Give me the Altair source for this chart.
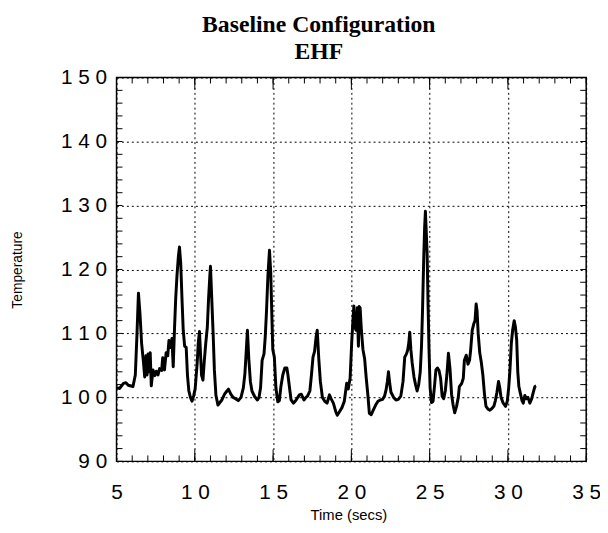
import altair as alt
import pandas as pd

# ---- data ----
time_s = [5.0, 5.2, 5.44, 5.6, 5.75, 6.05, 6.2, 6.3, 6.4, 6.5, 6.6, 6.72, 6.8, 6.88, 6.95,
          7.02, 7.1, 7.15, 7.22, 7.33, 7.45, 7.54, 7.65, 7.75, 7.88, 7.95, 8.06, 8.17, 8.27,
          8.35, 8.45, 8.54, 8.62, 8.7, 8.78, 8.86, 8.95, 9.02, 9.1, 9.18, 9.26, 9.35, 9.45,
          9.53, 9.62, 9.72, 9.82, 9.92, 10.02, 10.15, 10.22, 10.3, 10.38, 10.43, 10.52, 10.6,
          10.7, 10.8, 10.88, 10.96, 11.0, 11.08, 11.17, 11.25, 11.35, 11.48, 11.6, 11.73, 11.9,
          12.05, 12.15, 12.3, 12.45, 12.6, 12.78, 12.95, 13.1, 13.2, 13.28, 13.36, 13.45, 13.55,
          13.65, 13.83, 14.0, 14.1, 14.2, 14.3, 14.42, 14.5, 14.58, 14.67, 14.77, 14.85, 14.92,
          14.98, 15.08, 15.18, 15.3, 15.4, 15.5, 15.62, 15.75, 15.88, 15.95, 16.05, 16.15, 16.3,
          16.45, 16.55, 16.68, 16.8, 16.97, 17.1, 17.2, 17.35, 17.45, 17.55, 17.65, 17.75, 17.82,
          17.92, 18.02, 18.15, 18.3, 18.45, 18.6, 18.7, 18.85, 19.0, 19.1, 19.25, 19.4, 19.55,
          19.7, 19.8, 19.92, 20.02, 20.1, 20.16, 20.22, 20.3, 20.38, 20.45, 20.5, 20.56, 20.64,
          20.74, 20.85, 20.95, 21.05, 21.15, 21.27, 21.4, 21.55, 21.7, 21.85, 22.0, 22.12, 22.22,
          22.3, 22.37, 22.45, 22.53, 22.7, 22.85, 23.0, 23.16, 23.3, 23.41, 23.52, 23.6, 23.67,
          23.73, 23.8, 23.88, 24.0, 24.1, 24.2, 24.3, 24.4, 24.48, 24.55, 24.62, 24.68, 24.73,
          24.79, 24.84, 24.9, 24.96, 25.03, 25.12, 25.22, 25.32, 25.4, 25.5, 25.6, 25.7, 25.8,
          25.9, 26.0, 26.1, 26.2, 26.3, 26.4, 26.5, 26.6, 26.72, 26.83, 26.9, 27.05, 27.15,
          27.22, 27.34, 27.45, 27.55, 27.62, 27.72, 27.82, 27.9, 27.97, 28.03, 28.1, 28.2, 28.3,
          28.4, 28.5, 28.6, 28.72, 28.85, 28.95, 29.1, 29.2, 29.3, 29.4, 29.48, 29.56, 29.7,
          29.85, 29.96, 30.05, 30.13, 30.22, 30.3, 30.4, 30.48, 30.56, 30.63, 30.7, 30.8, 30.9,
          30.98, 31.08, 31.18, 31.28, 31.4, 31.52, 31.62, 31.72, 31.8]

temperature = [101.5, 101.4, 102.2, 102.3, 101.9, 101.7, 103.5, 109.5, 116.3, 113.0, 108.5,
               105.5, 103.2, 106.5, 103.5, 106.8, 104.0, 107.0, 101.8, 104.3, 103.4, 104.1,
               103.5, 104.5, 104.2, 106.2, 104.3, 107.0, 106.5, 108.9, 107.8, 109.2, 104.8,
               110.5, 115.5, 119.0, 122.0, 123.5, 121.0, 115.5, 110.5, 108.0, 107.8, 103.5,
               101.0, 100.0, 99.4, 100.2, 101.3, 105.3, 108.5, 110.3, 106.0, 103.5, 102.7,
               105.5, 108.5, 111.0, 115.5, 119.0, 120.5, 115.6, 110.0, 104.3, 100.3, 98.8,
               99.2, 99.6, 100.5, 101.0, 101.3, 100.5, 100.0, 99.8, 99.5, 100.0, 101.5, 103.7,
               107.0, 110.5, 106.0, 102.5, 101.0, 100.1, 99.6, 100.0, 101.5, 105.8, 106.8,
               109.5, 113.5, 119.0, 123.0, 119.5, 113.0, 107.5, 106.3, 101.5, 99.3, 99.5,
               101.7, 103.5, 104.6, 104.6, 103.5, 101.5, 99.6, 99.1, 99.5, 99.9, 100.4, 100.5,
               99.6, 100.0, 100.2, 101.0, 103.5, 106.3, 107.2, 109.5, 110.5, 106.0, 102.5,
               100.0, 99.4, 99.1, 100.4, 99.8, 99.1, 97.8, 97.2, 97.8, 98.4, 99.4, 102.2,
               101.3, 103.0, 108.5, 112.0, 114.3, 111.0, 110.5, 114.0, 108.0, 114.2, 114.0,
               110.5, 107.5, 106.0, 103.0, 100.5, 97.5, 97.3, 98.0, 98.8, 99.4, 99.6, 99.7,
               100.2, 101.2, 102.5, 104.0, 102.2, 100.8, 100.0, 99.6, 99.7, 100.2, 102.5,
               106.3, 106.8, 107.4, 108.5, 110.2, 107.5, 105.5, 103.2, 102.0, 101.0, 102.0,
               104.0, 108.0, 114.0, 121.5, 126.5, 129.1, 125.5, 122.5, 114.5, 107.5, 101.5,
               99.2, 99.4, 102.0, 104.3, 104.6, 104.2, 103.0, 100.2, 99.8, 101.0, 103.5,
               106.9, 104.5, 100.5, 98.8, 97.6, 98.6, 100.0, 101.7, 102.2, 103.0, 105.8,
               106.6, 105.2, 105.8, 107.4, 110.5, 111.5, 112.0, 114.6, 113.5, 110.0, 107.0,
               105.5, 103.5, 100.6, 98.6, 98.2, 98.0, 98.2, 98.6, 99.5, 100.8, 102.5, 101.5,
               100.0, 99.1, 98.6, 99.4, 101.5, 104.3, 108.5, 110.5, 112.0, 111.0, 109.0,
               104.0, 101.7, 100.6, 99.5, 99.1, 100.3, 99.8, 100.0, 99.1, 99.8, 100.8, 101.7,
               101.8]

x_major = [5, 10, 15, 20, 25, 30, 35]
y_major = [90, 100, 110, 120, 130, 140, 150]
x_minor = list(range(5, 36))
y_minor = list(range(90, 151, 2))
x_inner = [10, 15, 20, 25, 30]

W, H = 476, 389

df = pd.DataFrame({"t": time_s, "temp": temperature})
xs = alt.Scale(domain=[5, 35], nice=False, zero=False)
ys = alt.Scale(domain=[90, 150], nice=False, zero=False)

spaced = "join(split(datum.label, ''), ' ')"

x_axis = alt.Axis(
    values=x_major, title="Time  (secs)", grid=True, gridDash=[2, 3],
    gridColor="black", gridOpacity=1, gridWidth=1, ticks=False, domain=False,
    labelExpr=spaced, labelFont="Liberation Sans", labelFontSize=21,
    labelColor="black", labelPadding=21, labelFlush=False,
    titleFont="Liberation Sans", titleFontSize=15, titleFontWeight="normal",
    titleColor="black", titleX=W / 2 - 3, titleY=54, titleBaseline="middle",
    titleAlign="center")
y_axis = alt.Axis(
    values=y_major, title="Temperature", grid=True, gridDash=[2, 3],
    gridColor="black", gridOpacity=1, gridWidth=1, ticks=False, domain=False,
    labelExpr=spaced, labelFont="Liberation Sans", labelFontSize=21,
    labelColor="black", labelPadding=10, labelFlush=False,
    titleFont="Liberation Sans", titleFontSize=14, titleFontWeight="normal",
    titleColor="black", titleX=-100, titleY=H / 2, titleBaseline="middle",
    titleAlign="center")

line = alt.Chart(df).mark_line(color="black", strokeWidth=3, strokeJoin="round").encode(
    x=alt.X("t:Q", scale=xs, axis=x_axis),
    y=alt.Y("temp:Q", scale=ys, axis=y_axis),
)

xmin_df = pd.DataFrame({"t": x_minor})
xmaj_df = pd.DataFrame({"t": x_inner})
ymin_df = pd.DataFrame({"temp": y_minor})


def xtick(data, y0, y1):
    return alt.Chart(data).mark_rule(color="black", strokeWidth=1).encode(
        x=alt.X("t:Q", scale=xs, axis=x_axis), y=alt.value(y0), y2=alt.value(y1))


def ytick(data, x0, x1):
    return alt.Chart(data).mark_rule(color="black", strokeWidth=1).encode(
        y=alt.Y("temp:Q", scale=ys, axis=y_axis), x=alt.value(x0), x2=alt.value(x1))


chart = alt.layer(
    line,
    xtick(xmin_df, H, H - 6), xtick(xmin_df, 0, 6),
    xtick(xmaj_df, H, H - 12), xtick(xmaj_df, 0, 12),
    ytick(ymin_df, 0, 6), ytick(ymin_df, W, W - 6),
).properties(
    width=W, height=H,
    autosize=alt.AutoSizeParams(type="none"),
    padding={"left": 110, "top": 67, "right": 14, "bottom": 61},
    title=alt.TitleParams(
        ["Baseline  Configuration", "EHF"], font="Liberation Serif", fontSize=24,
        fontWeight="bold", color="black", anchor="middle", lineHeight=27, offset=3,
        dx=-33),
    background="white",
).configure_view(stroke="black", strokeWidth=1.5)

chart.save("out.html", embed_options={"renderer": "svg", "actions": False})
